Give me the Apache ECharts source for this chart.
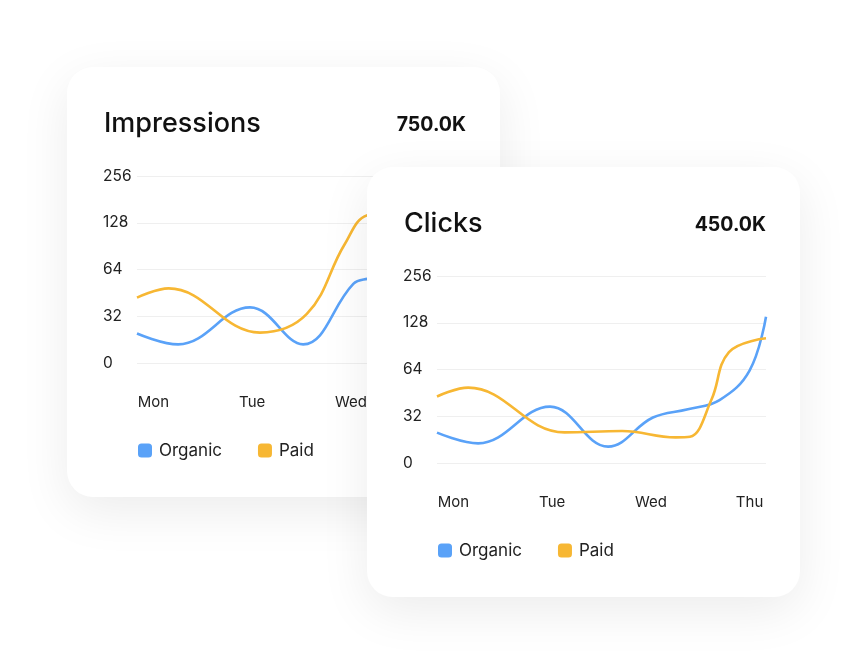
<!DOCTYPE html>
<html>
<head>
<meta charset="UTF-8">
<title>Impressions / Clicks</title>
<script src="https://cdn.jsdelivr.net/npm/echarts@6/dist/echarts.min.js"></script>
<style>
  html, body { margin: 0; padding: 0; background: #fff; }
  body { width: 868px; height: 666px; position: relative; overflow: hidden; }
  .card {
    position: absolute; width: 433px; height: 430px;
    background: #fff; border-radius: 26px; overflow: hidden;
    box-shadow: 0 14px 50px rgba(0, 0, 0, 0.08);
  }
  #card1 { left: 67px; top: 67px; }
  #card2 { left: 367px; top: 167px; }
  .chart { width: 433px; height: 430px; }
</style>
</head>
<body>
<div class="card" id="card1"><div class="chart" id="impressions"></div></div>
<div class="card" id="card2"><div class="chart" id="clicks"></div></div>
<script>
// x = hours since Monday 00:00, day names sit on midnight
var dayHours = [0, 24, 48, 72];
var dayNames = ['Mon', 'Tue', 'Wed', 'Thu'];
var yTicks = [16, 32, 64, 128, 256];
var yTickLabels = ['0', '32', '64', '128', '256'];

var impressionsOrganicHours = [-4, 6, 23.5, 36.4, 48.6, 52, 60, 68, 76];
var impressionsOrganic = [24.8, 21.1, 36.5, 21.1, 51.7, 55.7, 60, 70, 90];
var impressionsPaidHours = [-4, 3.7, 25.9, 37.3, 46.5, 52, 60, 68, 76];
var impressionsPaid = [42.2, 48.4, 25.1, 33.1, 93, 143, 150, 148, 155];

var clicksOrganicHours = [-4, 6, 23.5, 37.6, 48.5, 57, 64.7, 72, 76];
var clicksOrganic = [25.1, 21.4, 36.9, 20.4, 31.4, 35.5, 40.7, 63, 140];
var clicksPaidHours = [-4, 3.6, 27, 41, 54, 57.5, 62.7, 67, 76];
var clicksPaid = [42.9, 48.9, 25.2, 25.7, 23.4, 23.6, 40.7, 82.9, 101.6];

var BLUE = '#5aa2f8';
var YELLOW = '#f7b733';
var FONT = 'Inter, "Noto Sans", sans-serif';

function pairs(xs, ys) {
  return xs.map(function (x, i) { return [x, ys[i]]; });
}

function makeOption(name, total, organic, paid) {
  return {
    animation: false,
    textStyle: { fontFamily: FONT },
    title: [
      { text: name, left: 32, top: 38,
        textStyle: { fontSize: 27, fontWeight: 500, color: '#111', fontFamily: FONT } },
      { text: total, right: 29, top: 43,
        textStyle: { fontSize: 19.5, fontWeight: 'bold', color: '#111', fontFamily: FONT } }
    ],
    legend: {
      data: ['Organic', 'Paid'],
      left: 66, top: 370,
      icon: 'roundRect', itemWidth: 14, itemHeight: 14, itemGap: 36,
      textStyle: { fontSize: 17, color: '#222', padding: [0, 0, 0, 2] }
    },
    grid: { left: 70, right: 34, top: 109, bottom: 134 },
    xAxis: {
      type: 'value', min: -4, max: 76,
      axisLine: { show: false }, axisTick: { show: false },
      splitLine: { show: false },
      axisLabel: {
        customValues: dayHours,
        margin: 32, fontSize: 15, color: '#222',
        formatter: function (v) {
          var k = dayHours.indexOf(Math.round(v));
          return k >= 0 ? dayNames[k] : '';
        }
      }
    },
    yAxis: {
      type: 'log', logBase: 2, min: 16, max: 256,
      axisLine: { show: false }, axisTick: { show: false },
      splitLine: { lineStyle: { color: '#efefef', width: 1 } },
      axisLabel: {
        align: 'left', margin: 34, fontSize: 15.5, color: '#222',
        padding: [0, 0, 4, 0],
        formatter: function (v) {
          var k = yTicks.indexOf(Math.round(v));
          return k >= 0 ? yTickLabels[k] : '';
        }
      }
    },
    series: [
      { name: 'Organic', type: 'line', data: organic, smooth: 0.4, symbol: 'none',
        color: BLUE, lineStyle: { width: 2.6, color: BLUE } },
      { name: 'Paid', type: 'line', data: paid, smooth: 0.4, symbol: 'none',
        color: YELLOW, lineStyle: { width: 2.6, color: YELLOW } }
    ]
  };
}

var chart1 = echarts.init(document.getElementById('impressions'), null, { renderer: 'canvas' });
chart1.setOption(makeOption('Impressions', '750.0K',
  pairs(impressionsOrganicHours, impressionsOrganic),
  pairs(impressionsPaidHours, impressionsPaid)));

var chart2 = echarts.init(document.getElementById('clicks'), null, { renderer: 'canvas' });
chart2.setOption(makeOption('Clicks', '450.0K',
  pairs(clicksOrganicHours, clicksOrganic),
  pairs(clicksPaidHours, clicksPaid)));
</script>
</body>
</html>
